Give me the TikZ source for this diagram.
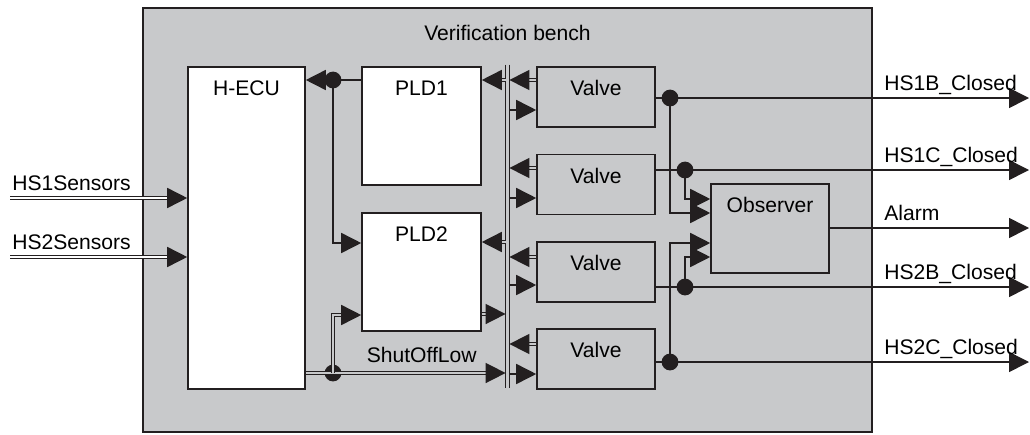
\documentclass[tikz,border=0pt]{standalone}
\usepackage{fontspec}
\setmainfont{Liberation Sans}
\usetikzlibrary{arrows.meta,positioning,calc}
\definecolor{benchgray}{RGB}{200,201,203}
\definecolor{ink}{RGB}{35,31,32}

\begin{document}
\begin{tikzpicture}[x=0.025cm, y=-0.025cm, font=\fontsize{15}{18}\selectfont,
  box/.style={draw=ink, line width=1.1pt, rectangle, inner sep=0pt},
  top/.style={anchor=north, inner sep=0pt, yshift=-0.35cm},
  sig/.style={draw=ink, line width=1.1pt, -{Triangle[length=0.5cm, width=0.5cm]}},
  dsig/.style={sig, double=benchgray, double distance=1.1pt},
  dot/.style={circle, fill=ink, inner sep=0pt, minimum size=0.42cm},
  pin/.style={anchor=base west, inner sep=0pt}]

\useasboundingbox (0,0) rectangle (1030,434);

% bench and blocks
\node[box, fill=benchgray, minimum width=18.225cm, minimum height=10.6cm,
  label={[top, yshift=-0.1cm]north:Verification bench}] (bench) at (507.5,220) {};
\node[box, fill=white, minimum width=2.925cm, minimum height=8.05cm, label={[top]north:H-ECU}] (hecu) at (246.5,228) {};
\node[box, fill=white, minimum width=2.975cm, minimum height=2.95cm, label={[top]north:PLD1}] (pld1) at (421.5,126) {};
\node[box, fill=white, minimum width=2.975cm, minimum height=2.95cm, label={[top]north:PLD2}] (pld2) at (421.5,272) {};
\foreach \i/\y in {1/97,2/184.5,3/272,4/359}
  \node[box, minimum width=2.95cm, minimum height=1.5cm, label={[top]north:Valve}] (valve\i) at (596,\y) {};
\node[box, minimum width=2.95cm, minimum height=2.225cm, label={[top]north:Observer}] (obs) at (770,228.5) {};

% bus
\node[minimum width=0.08cm, minimum height=8.075cm, inner sep=0pt] (bus) at (507.5,226.5) {};
\draw[ink, line width=1.1pt] (bus.north west) -- (bus.south west)
  (bus.north east) -- (bus.south east);

% sensor inputs
\coordinate (hs1) at (10,198);
\coordinate (hs2) at (10,257);
\draw[dsig, double=white] (hs1) -- (hecu.west |- hs1);
\draw[dsig, double=white] (hs2) -- (hecu.west |- hs2);
\node[pin] (hs1lbl) at (12,190) {HS1Sensors};
\node[pin] (hs2lbl) at (12,249) {HS2Sensors};

% PLD links
\node[dot] (jp) at (333,80) {};
\draw[sig] (pld1.west |- 0,80) -- (hecu.east |- 0,80);
\draw[sig] (jp.center) |- (pld2.west |- 0,243);
\draw[dsig] (bus.west |- 0,80) -- (pld1.east |- 0,80);
\draw[dsig] (bus.west |- 0,242) -- (pld2.east |- 0,242);
\draw[dsig] (pld2.east |- 0,314) -- (bus.west |- 0,314);

% shut off
\node[dot] (js) at (333,373) {};
\draw[dsig] (hecu.east |- 0,373) -- (bus.west |- 0,373)
  node[pos=0.58, above, inner sep=0pt, yshift=7pt] (shut) {ShutOffLow};
\draw[dsig] (js.center) |- (pld2.west |- 0,315);

% valves on the bus
\foreach \i/\u/\d in {1/80/110,2/168/198,3/257/285,4/344/374}{
  \draw[dsig] (valve\i.west |- 0,\u) -- (bus.east |- 0,\u);
  \draw[sig] (bus.east |- 0,\d) -- (valve\i.west |- 0,\d);
}

% outputs
\coordinate (o1) at (1029,98);
\coordinate (o2) at (1029,170);
\coordinate (o3) at (1029,228);
\coordinate (o4) at (1029,287);
\coordinate (o5) at (1029,362);
\node[dot] (jv1) at (670,98) {};
\node[dot] (jv2) at (685,170) {};
\node[dot] (jv3) at (685,287) {};
\node[dot] (jv4) at (670,362) {};
\draw[sig] (valve1.east |- o1) -- (o1);
\draw[sig] (valve2.east |- o2) -- (o2);
\draw[sig] (obs.east |- o3) -- (o3);
\draw[sig] (valve3.east |- o4) -- (o4);
\draw[sig] (valve4.east |- o5) -- (o5);
\node[pin] (l1) at (884,90) {HS1B\_Closed};
\node[pin] (l2) at (884,162) {HS1C\_Closed};
\node[pin] (l3) at (884,220) {Alarm};
\node[pin] (l4) at (884,279) {HS2B\_Closed};
\node[pin] (l5) at (884,354) {HS2C\_Closed};

% observer inputs
\draw[sig] (jv2.center) |- (obs.west |- 0,199);
\draw[sig] (jv1.center) |- (obs.west |- 0,213);
\draw[sig] (jv4.center) |- (obs.west |- 0,243);
\draw[sig] (jv3.center) |- (obs.west |- 0,257);
\end{tikzpicture}
\end{document}
